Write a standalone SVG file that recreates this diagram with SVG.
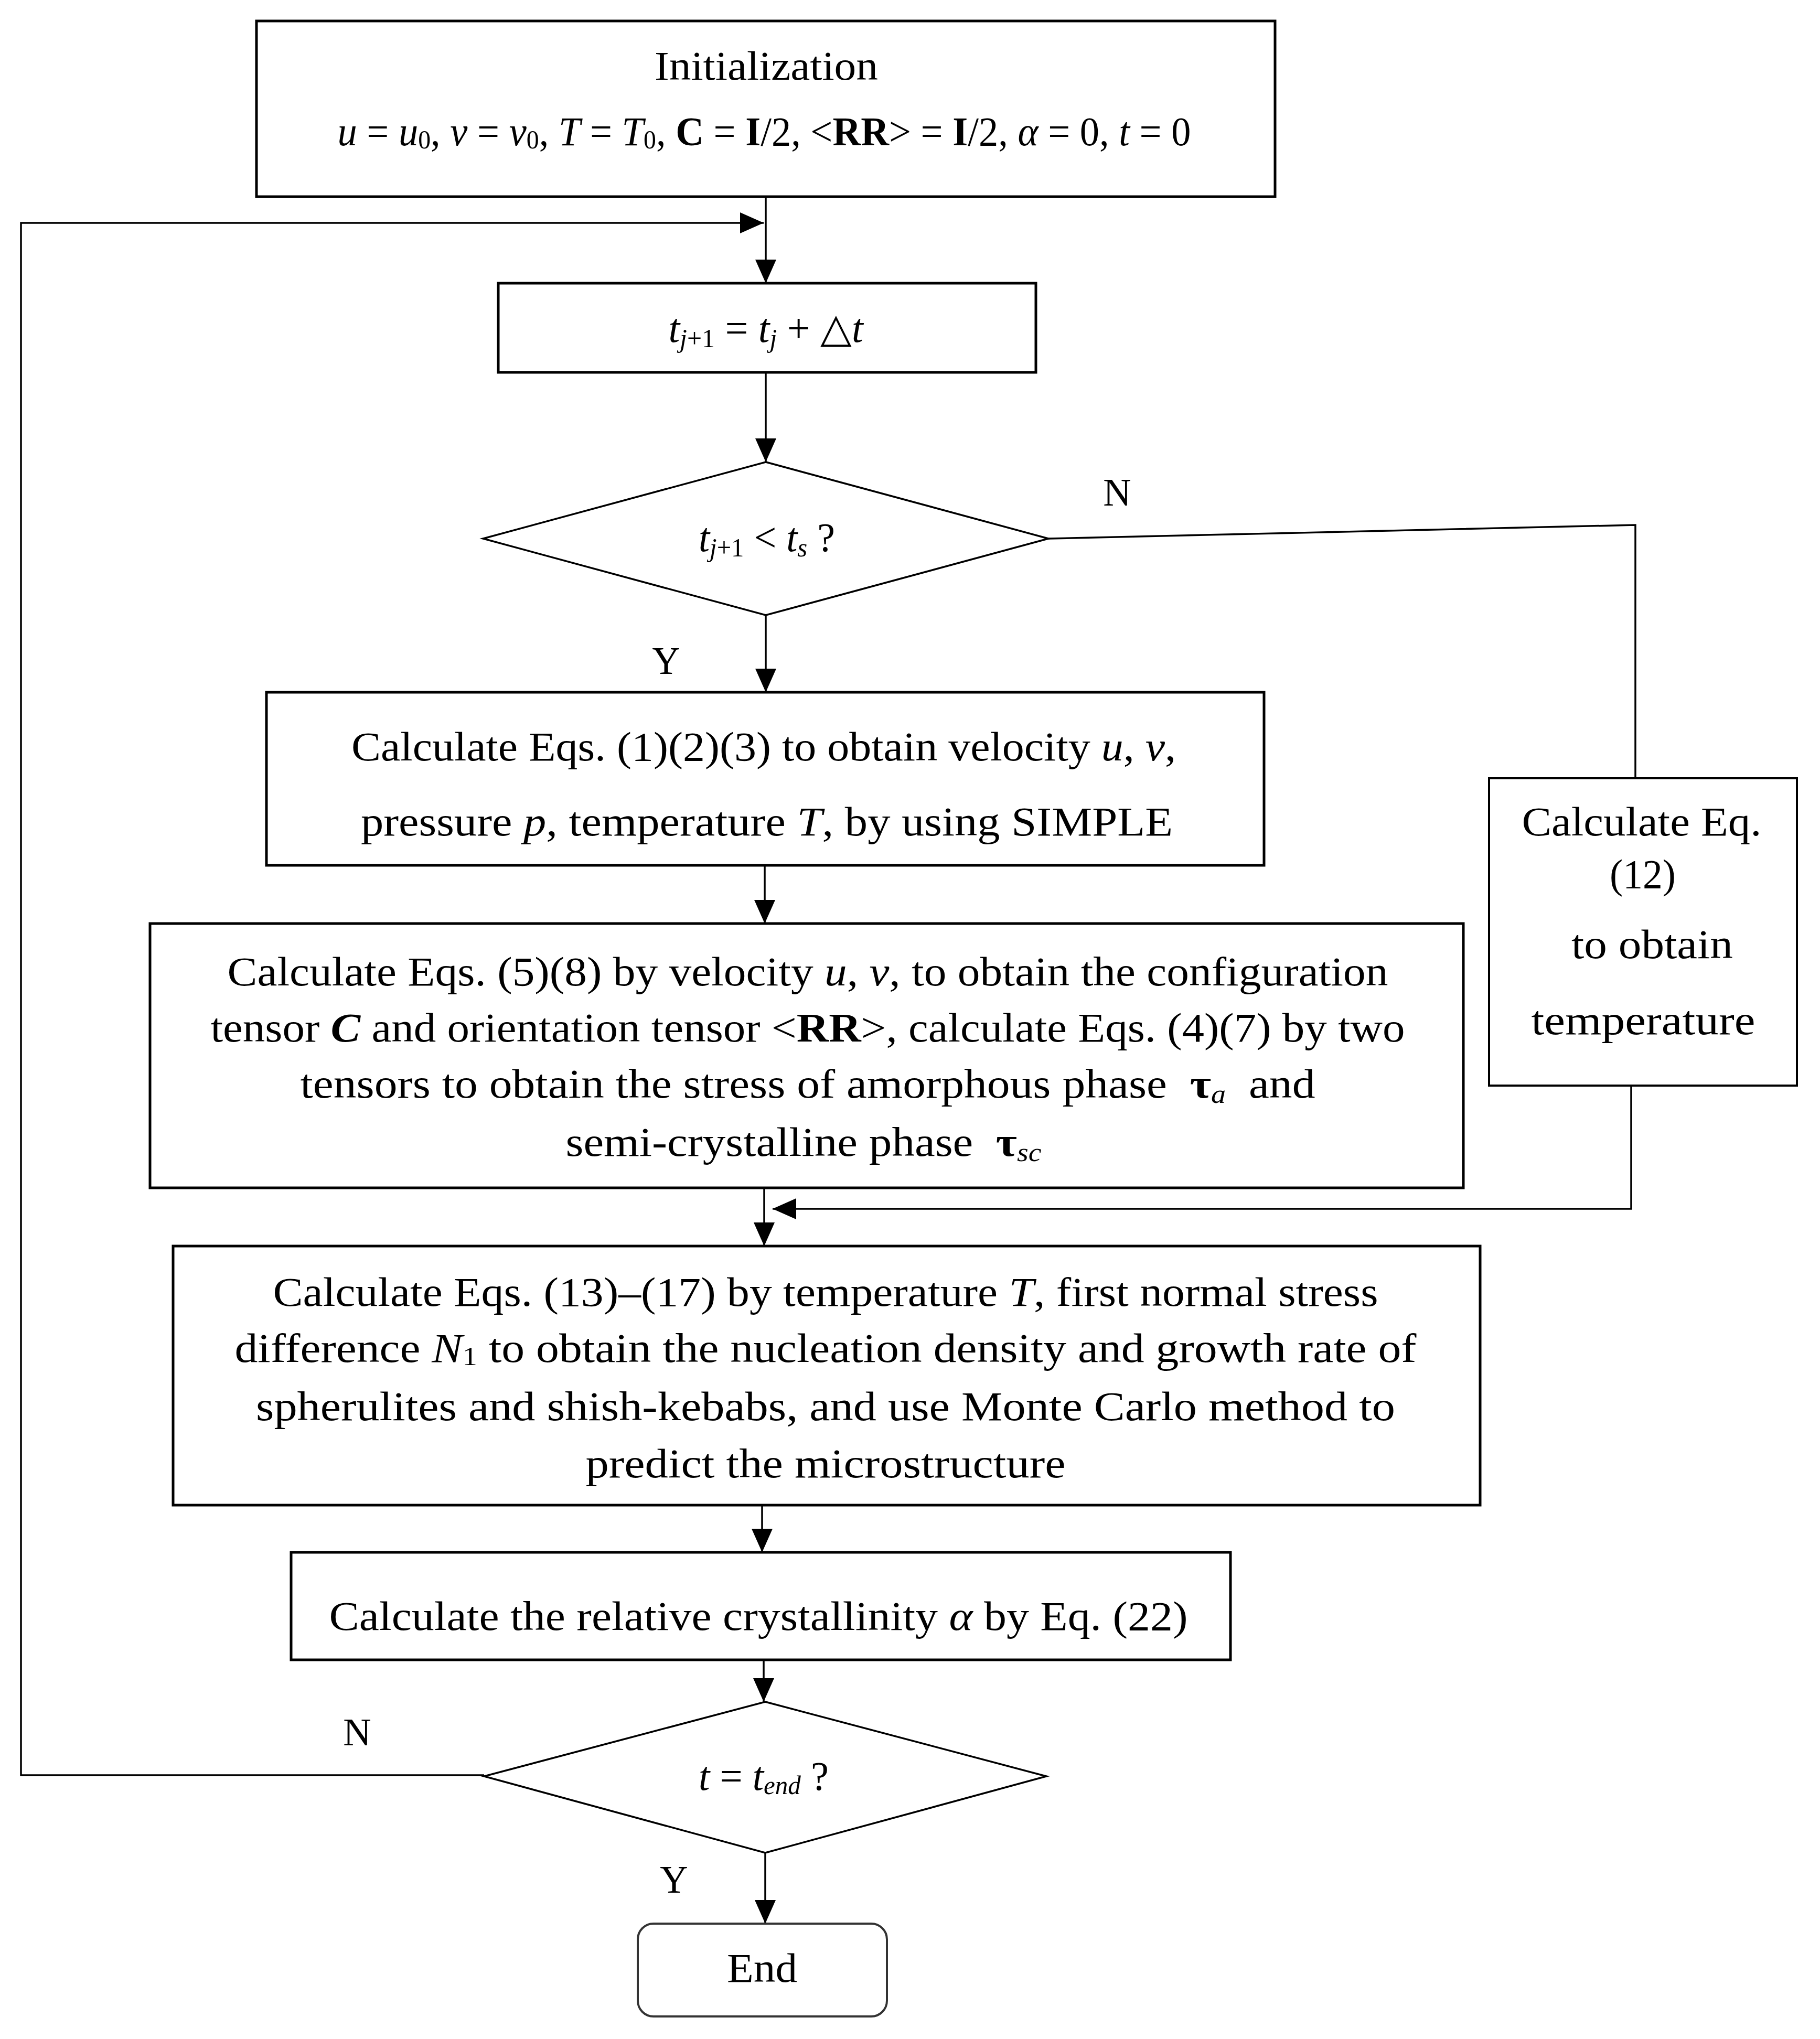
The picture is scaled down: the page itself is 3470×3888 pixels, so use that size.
<svg xmlns="http://www.w3.org/2000/svg" width="3470" height="3888" viewBox="0 0 3470 3888">
<style>
.box{fill:#fff;stroke:#000;stroke-width:5}
.dia{fill:#fff;stroke:#000;stroke-width:3.5}
.ln{fill:none;stroke:#000;stroke-width:3.5}
.t{font-family:"Liberation Serif","Times New Roman",serif;font-size:78px;text-anchor:middle;fill:#000}
.lab{font-family:"Liberation Serif","Times New Roman",serif;font-size:74px;text-anchor:middle;fill:#000}
.i{font-style:italic}
.b{font-weight:bold}
.s{font-size:50px}
</style>
<defs>
<marker id="ah" markerUnits="userSpaceOnUse" markerWidth="45" markerHeight="40" refX="45" refY="20" orient="auto"><path d="M0,0 L45,20 L0,40 z" fill="#000"/></marker>
</defs>
<rect width="3470" height="3888" fill="#fff"/>
<g id="connectors">
<path class="ln" d="M1460,375 V540" marker-end="url(#ah)"/>
<path class="ln" d="M1460,710 V881" marker-end="url(#ah)"/>
<path class="ln" d="M1460,1173 V1320" marker-end="url(#ah)"/>
<path class="ln" d="M1458,1650 V1761" marker-end="url(#ah)"/>
<path class="ln" d="M1457,2265 V2376" marker-end="url(#ah)"/>
<path class="ln" d="M1999,1027 L3118,1001 V1484"/>
<path class="ln" d="M3110,2070 V2305 H1473" marker-end="url(#ah)"/>
<path class="ln" d="M1453,2870 V2960" marker-end="url(#ah)"/>
<path class="ln" d="M1456,3165 V3245" marker-end="url(#ah)"/>
<path class="ln" d="M1459,3533 V3668" marker-end="url(#ah)"/>
<path class="ln" d="M923,3385 H40 V425 H1456" marker-end="url(#ah)"/>
<text class="lab" x="2130" y="964">N</text>
<text class="lab" x="1270" y="1285">Y</text>
<text class="lab" x="681" y="3328">N</text>
<text class="lab" x="1285" y="3609">Y</text>
</g>
<g id="init">
<rect class="box" x="489" y="40" width="1942" height="335"/>
<text class="t" x="1461" y="152" textLength="426" lengthAdjust="spacingAndGlyphs">Initialization</text>
<text class="t" x="1457" y="277" textLength="1627" lengthAdjust="spacingAndGlyphs"><tspan class="i">u</tspan> = <tspan class="i">u</tspan><tspan class="s" dy="6">0</tspan><tspan dy="-6">, </tspan><tspan class="i">v</tspan> = <tspan class="i">v</tspan><tspan class="s" dy="6">0</tspan><tspan dy="-6">, </tspan><tspan class="i">T</tspan> = <tspan class="i">T</tspan><tspan class="s" dy="6">0</tspan><tspan dy="-6">, </tspan><tspan class="b">C</tspan> = <tspan class="b">I</tspan>/2, &lt;<tspan class="b">RR</tspan>&gt; = <tspan class="b">I</tspan>/2, <tspan class="i">α</tspan> = 0, <tspan class="i">t</tspan> = 0</text>
</g>
<g id="step">
<rect class="box" x="950" y="540" width="1025" height="170"/>
<text class="t" x="1460" y="652" textLength="371" lengthAdjust="spacingAndGlyphs"><tspan class="i">t</tspan><tspan class="s" dy="10"><tspan class="i">j</tspan>+1</tspan><tspan dy="-10"> = </tspan><tspan class="i">t</tspan><tspan class="s i" dy="10">j</tspan><tspan dy="-10"> + △</tspan><tspan class="i">t</tspan></text>
</g>
<g id="decision1">
<polygon class="dia" points="1460,881 1999,1027 1460,1173 921,1027"/>
<text class="t" x="1462" y="1051" textLength="260" lengthAdjust="spacingAndGlyphs"><tspan class="i">t</tspan><tspan class="s" dy="10"><tspan class="i">j</tspan>+1</tspan><tspan dy="-10"> &lt; </tspan><tspan class="i">t</tspan><tspan class="s i" dy="10">s</tspan><tspan dy="-10"> ?</tspan></text>
</g>
<g id="calc1">
<rect class="box" x="508" y="1320" width="1902" height="330"/>
<text class="t" x="1456" y="1450" textLength="1572" lengthAdjust="spacingAndGlyphs">Calculate Eqs. (1)(2)(3) to obtain velocity <tspan class="i">u</tspan>, <tspan class="i">v</tspan>,</text>
<text class="t" x="1462" y="1593" textLength="1548" lengthAdjust="spacingAndGlyphs">pressure <tspan class="i">p</tspan>, temperature <tspan class="i">T</tspan>, by using SIMPLE</text>
</g>
<g id="calcTemp">
<rect class="box" x="2839" y="1484" width="587" height="586" style="stroke-width:4"/>
<text class="t" x="3130" y="1593" textLength="457" lengthAdjust="spacingAndGlyphs">Calculate Eq.</text>
<text class="t" x="3132" y="1693" textLength="126" lengthAdjust="spacingAndGlyphs">(12)</text>
<text class="t" x="3150" y="1827" textLength="308" lengthAdjust="spacingAndGlyphs">to obtain</text>
<text class="t" x="3133" y="1972" textLength="427" lengthAdjust="spacingAndGlyphs">temperature</text>
</g>
<g id="calc2">
<rect class="box" x="286" y="1761" width="2504" height="504"/>
<text class="t" x="1540" y="1879" textLength="2213" lengthAdjust="spacingAndGlyphs">Calculate Eqs. (5)(8) by velocity <tspan class="i">u</tspan>, <tspan class="i">v</tspan>, to obtain the configuration</text>
<text class="t" x="1540" y="1986" textLength="2277" lengthAdjust="spacingAndGlyphs">tensor <tspan class="b i">C</tspan> and orientation tensor &lt;<tspan class="b">RR</tspan>&gt;, calculate Eqs. (4)(7) by two</text>
<text class="t" x="1540" y="2093" textLength="1935" lengthAdjust="spacingAndGlyphs">tensors to obtain the stress of amorphous phase &#160;<tspan class="b">τ</tspan><tspan class="s i" dy="10">a</tspan><tspan dy="-10">&#160; and</tspan></text>
<text class="t" x="1532" y="2204" textLength="907" lengthAdjust="spacingAndGlyphs">semi-crystalline phase &#160;<tspan class="b">τ</tspan><tspan class="s i" dy="10">sc</tspan></text>
</g>
<g id="calc3">
<rect class="box" x="330" y="2376" width="2492" height="494"/>
<text class="t" x="1574" y="2490" textLength="2107" lengthAdjust="spacingAndGlyphs">Calculate Eqs. (13)–(17) by temperature <tspan class="i">T</tspan>, first normal stress</text>
<text class="t" x="1574" y="2597" textLength="2253" lengthAdjust="spacingAndGlyphs">difference <tspan class="i">N</tspan><tspan class="s" dy="6">1</tspan><tspan dy="-6"> to obtain the nucleation density and growth rate of</tspan></text>
<text class="t" x="1574" y="2708" textLength="2172" lengthAdjust="spacingAndGlyphs">spherulites and shish-kebabs, and use Monte Carlo method to</text>
<text class="t" x="1574" y="2817" textLength="915" lengthAdjust="spacingAndGlyphs">predict the microstructure</text>
</g>
<g id="calc4">
<rect class="box" x="555" y="2960" width="1791" height="205"/>
<text class="t" x="1446" y="3108" textLength="1637" lengthAdjust="spacingAndGlyphs">Calculate the relative crystallinity <tspan class="i">α</tspan> by Eq. (22)</text>
</g>
<g id="decision2">
<polygon class="dia" points="1459,3245 1995,3387 1459,3533 923,3387"/>
<text class="t" x="1456" y="3413" textLength="248" lengthAdjust="spacingAndGlyphs"><tspan class="i">t</tspan> = <tspan class="i">t</tspan><tspan class="s i" dy="8">end</tspan><tspan dy="-8"> ?</tspan></text>
</g>
<g id="end">
<rect x="1216" y="3668" width="475" height="177" rx="30" ry="30" fill="#fff" stroke="#333" stroke-width="4"/>
<text class="t" x="1453" y="3779" textLength="134" lengthAdjust="spacingAndGlyphs">End</text>
</g>
</svg>
